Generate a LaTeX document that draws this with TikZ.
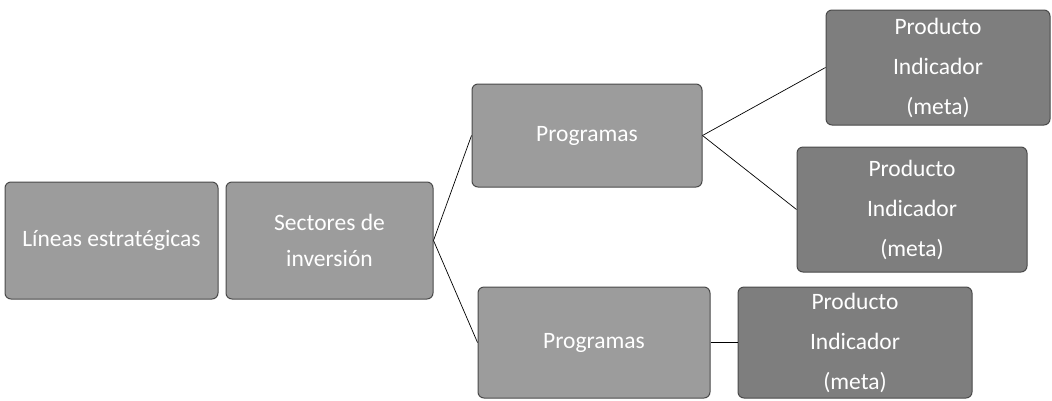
\documentclass[tikz,border=0pt]{standalone}
\usepackage{fontspec}
\setmainfont{Carlito}
\definecolor{boxgray}{HTML}{9C9C9C}
\definecolor{boxdark}{HTML}{7E7E7E}
\definecolor{edgegray}{HTML}{4A4A4A}
\begin{document}
\begin{tikzpicture}[x=1pt,y=-1pt,
  box/.style={draw=edgegray, line width=1pt, fill=boxgray, rounded corners=6pt,
    text=white, font=\fontsize{23.5}{36}\selectfont, align=center, inner sep=2pt},
  prodbox/.style={box, fill=boxdark, font=\fontsize{23.5}{40}\selectfont},
  link/.style={draw=black, line width=0.7pt}]
\useasboundingbox (0,0) rectangle (1052,400);
\node[box, minimum width=213pt, minimum height=117pt] (lin) at (111.5,240.5) {Líneas estratégicas};
\node[box, minimum width=207pt, minimum height=117pt] (sec) at (329.5,240.5) {Sectores de\\inversión};
\node[box, minimum width=230pt, minimum height=103pt] (prog1) at (587,135.5) {Programas};
\node[box, minimum width=232pt, minimum height=111pt] (prog2) at (594,342.5) {Programas};
\node[prodbox, minimum width=224pt, minimum height=115pt] (prod1) at (938,67.5) {Producto\\Indicador\\(meta)};
\node[prodbox, minimum width=230pt, minimum height=125pt] (prod2) at (912,209.5) {Producto\\Indicador\\(meta)};
\node[prodbox, minimum width=234pt, minimum height=111pt] (prod3) at (855,342.5) {Producto\\Indicador\\(meta)};
\draw[link] (sec.east) -- (prog1.west);
\draw[link] (sec.east) -- (prog2.west);
\draw[link] (prog1.east) -- (prod1.west);
\draw[link] (prog1.east) -- (prod2.west);
\draw[link] (prog2.east) -- (prod3.west);
\end{tikzpicture}
\end{document}
